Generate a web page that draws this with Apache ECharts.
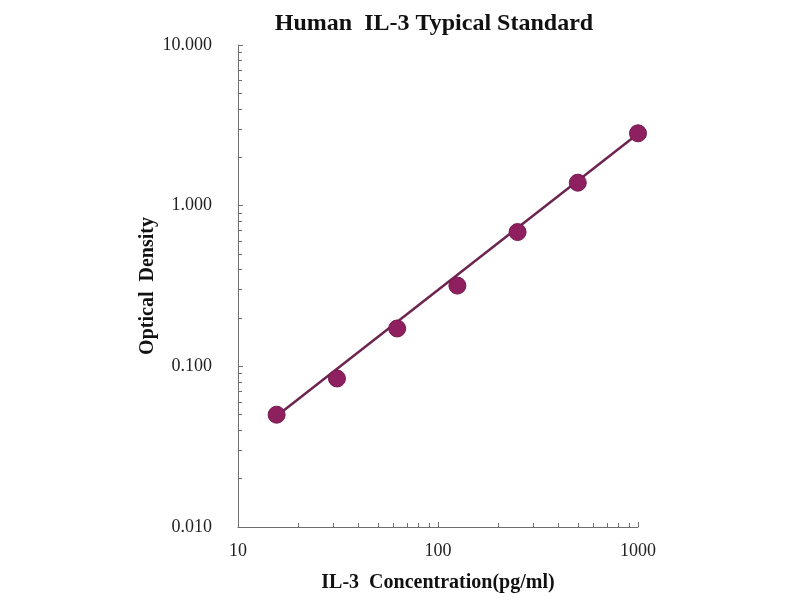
<!DOCTYPE html>
<html>
<head>
<meta charset="utf-8">
<script src="https://cdn.jsdelivr.net/npm/echarts@6/dist/echarts.min.js"></script>
<style>
  html, body { margin: 0; padding: 0; background: #fff; }
  #chart { width: 800px; height: 600px; }
</style>
</head>
<body>
<div id="chart"></div>
<script>
// standard concentrations (pg/ml) and measured OD
const concentrations = [15.6, 31.25, 62.5, 125, 250, 500, 1000];
const opticalDensity = [0.050, 0.084, 0.172, 0.318, 0.685, 1.39, 2.82];
// fitted line endpoints
const fitX = [15.6, 1000];
const fitY = [0.049, 2.8];

const serif = "'Liberation Serif', 'DejaVu Serif', serif";
const axisColor = "#6f6f6f";

const chart = echarts.init(document.getElementById("chart"));

chart.setOption({
  backgroundColor: "#fff",
  animation: false,
  title: {
    text: "Human  IL-3 Typical Standard",
    left: 429,
    top: 7,
    textAlign: "center",
    textStyle: { fontFamily: serif, fontSize: 24, fontWeight: "bold", color: "#111" },
  },
  grid: { left: 238, right: 162, top: 45, bottom: 73 },
  xAxis: {
    type: "log",
    logBase: 10,
    min: 10,
    max: 1000,
    name: "IL-3  Concentration(pg/ml)",
    nameLocation: "middle",
    nameGap: 46,
    nameTextStyle: { fontFamily: serif, fontSize: 20, fontWeight: "bold", color: "#111" },
    axisLine: { lineStyle: { color: axisColor } },
    axisTick: { inside: true, length: 5, lineStyle: { color: axisColor } },
    minorTick: { show: true, splitNumber: 9, length: 4, lineStyle: { color: axisColor } },
    splitLine: { show: false },
    axisLabel: {
      fontFamily: serif,
      fontSize: 18,
      color: "#222",
      margin: 15,
      formatter: (v) => String(v),
    },
  },
  yAxis: {
    type: "log",
    logBase: 10,
    min: 0.01,
    max: 10,
    name: "Optical  Density",
    nameLocation: "middle",
    nameGap: 80,
    nameTextStyle: { fontFamily: serif, fontSize: 20, fontWeight: "bold", color: "#111" },
    axisLine: { show: true, lineStyle: { color: axisColor } },
    axisTick: { show: true, inside: true, length: 5, lineStyle: { color: axisColor } },
    minorTick: { show: true, splitNumber: 9, length: 4, lineStyle: { color: axisColor } },
    splitLine: { show: false },
    axisLabel: {
      fontFamily: serif,
      fontSize: 18,
      color: "#222",
      margin: 26,
      formatter: (v) => v.toFixed(3),
    },
  },
  series: [
    {
      type: "line",
      data: fitX.map((x, i) => [x, fitY[i]]),
      symbol: "none",
      lineStyle: { color: "#6c2450", width: 2.5 },
      z: 2,
    },
    {
      type: "scatter",
      data: concentrations.map((c, i) => [c, opticalDensity[i]]),
      symbolSize: 17,
      itemStyle: { color: "#8e2060", borderColor: "#74184e", borderWidth: 1, opacity: 1 },
      z: 3,
    },
  ],
});
</script>
</body>
</html>
